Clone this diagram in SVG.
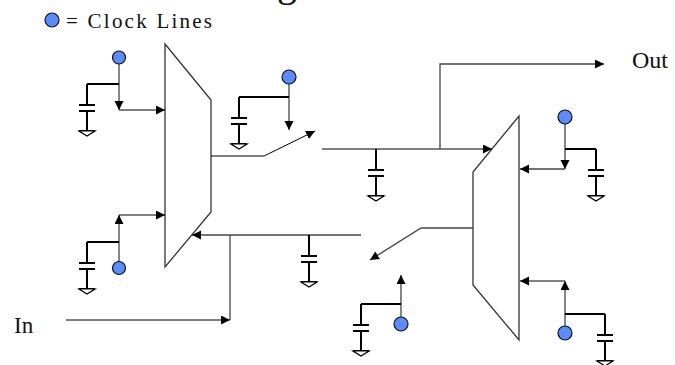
<svg xmlns="http://www.w3.org/2000/svg" width="675" height="365" viewBox="0 0 675 365">
<defs>
<marker id="a" markerUnits="userSpaceOnUse" markerWidth="10" markerHeight="10" refX="9" refY="4.5" orient="auto"><path d="M0 0L9 4.5L0 9Z" fill="#000"/></marker>
<g id="cap"><path class="t" d="M0 0V21M-8 21H8M-8 27H8M0 27V47M-8 47H8"/><path d="M-8 47H8L0 52Z" fill="#fff" stroke="#000" stroke-width="1.2"/></g>
</defs>
<style>
.l{fill:none;stroke:#000;stroke-width:1}
.g{fill:none;stroke:#444;stroke-width:1.3}
.t{fill:none;stroke:#000;stroke-width:2}
.c{fill:#5b8cff;stroke:#111;stroke-width:1.2}
.m{fill:#fff;stroke:#333;stroke-width:1.3}
.x{font-family:"Liberation Serif","Times New Roman",serif;fill:#111}
</style>
<g id="title"><text class="x" x="277" y="-4" font-size="40">g</text></g>
<g id="legend"><circle class="c" cx="52" cy="20" r="7"/><text class="x" x="66" y="28" font-size="21" textLength="146">= Clock Lines</text></g>
<g id="mux-left"><polygon class="m" points="165,44 211,100 211,212 165,267"/></g>
<g id="mux-right"><polygon class="m" points="519,116 519,340 473,285 473,172"/></g>
<g id="connectors">
<path class="l" d="M119 110H165" marker-end="url(#a)"/>
<path class="l" d="M119 215H165" marker-end="url(#a)"/>
<path class="l" d="M211 156H264L315 131" marker-end="url(#a)"/>
<path class="l" d="M322 149H492" marker-end="url(#a)"/>
<path class="g" d="M440 149V64H604" marker-end="url(#a)"/>
<path class="g" d="M361 235H192" marker-end="url(#a)"/>
<path class="g" d="M230 235V320"/>
<path class="l" d="M66 320H230" marker-end="url(#a)"/>
<path class="g" d="M473 228H421L370 260" marker-end="url(#a)"/>
<path class="g" d="M565 169H520" marker-end="url(#a)"/>
<path class="l" d="M565 281H520" marker-end="url(#a)"/>
<path class="g" d="M119 64V110" marker-end="url(#a)"/>
<path class="g" d="M119 261V215" marker-end="url(#a)"/>
<path class="g" d="M289 84V130" marker-end="url(#a)"/>
<path class="g" d="M565 124V169" marker-end="url(#a)"/>
<path class="g" d="M565 326V281" marker-end="url(#a)"/>
<path class="g" d="M401 317V275" marker-end="url(#a)"/>
<path class="t" d="M119 84H87"/>
<path class="t" d="M119 242H87"/>
<path class="t" d="M289 97H239"/>
<path class="t" d="M565 149H596"/>
<path class="t" d="M565 314H605"/>
<path class="t" d="M401 304H361"/>
</g>
<g id="cap1"><use href="#cap" x="87" y="84"/></g>
<g id="cap2"><use href="#cap" x="87" y="242"/></g>
<g id="cap3"><use href="#cap" x="239" y="97"/></g>
<g id="cap4"><use href="#cap" x="376" y="149"/></g>
<g id="cap5"><use href="#cap" x="309" y="235"/></g>
<g id="cap6"><use href="#cap" x="361" y="304"/></g>
<g id="cap7"><use href="#cap" x="596" y="149"/></g>
<g id="cap8"><use href="#cap" x="605" y="314"/></g>
<g id="clock1"><circle class="c" cx="119" cy="57.5" r="6.5"/></g>
<g id="clock2"><circle class="c" cx="119" cy="268" r="6.5"/></g>
<g id="clock3"><circle class="c" cx="289" cy="77" r="7"/></g>
<g id="clock4"><circle class="c" cx="401" cy="324" r="7"/></g>
<g id="clock5"><circle class="c" cx="565" cy="117" r="7"/></g>
<g id="clock6"><circle class="c" cx="565" cy="333" r="7"/></g>
<g id="label-out"><text class="x" x="632" y="68" font-size="24">Out</text></g>
<g id="label-in"><text class="x" x="14" y="333" font-size="23">In</text></g>
</svg>
